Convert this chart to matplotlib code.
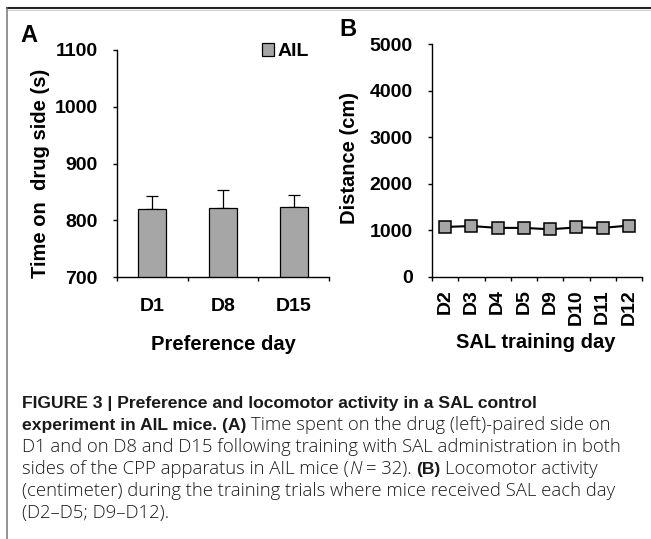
import matplotlib
matplotlib.use("Agg")
import matplotlib.pyplot as plt
from matplotlib.lines import Line2D
from matplotlib import font_manager

# ---------------- data ----------------
pref_days = ["D1", "D8", "D15"]
pref_time = [819, 821, 824]
pref_sem = [23, 32, 21]

train_days = ["D2", "D3", "D4", "D5", "D9", "D10", "D11", "D12"]
train_dist = [1070, 1090, 1050, 1050, 1020, 1060, 1050, 1100]

W, H = 651, 539
fig = plt.figure(figsize=(W / 100, H / 100), dpi=100)

names = {f.name for f in font_manager.fontManager.ttflist}
FONT = "Liberation Sans" if "Liberation Sans" in names else "DejaVu Sans"
CAPREG = "Open Sans" if "Open Sans" in names else FONT
plt.rcParams["font.family"] = [FONT, "DejaVu Sans"]

GRAY = "#a6a6a6"
TICK_FS = 14
LAB_FS = 14.5


def px_axes(l, t, r, b):
    return fig.add_axes([l / W, 1 - b / H, (r - l) / W, (b - t) / H])


def style_axes(ax):
    for s in ["top", "right"]:
        ax.spines[s].set_visible(False)
    for s in ["left", "bottom"]:
        ax.spines[s].set_linewidth(1.0)
        ax.spines[s].set_color("black")
    ax.tick_params(axis="y", which="major", direction="out", length=3, width=1.0,
                   pad=11, labelsize=TICK_FS)
    for lab in ax.get_yticklabels():
        lab.set_fontweight("bold")


# ---------------- panel A ----------------
axA = px_axes(117, 50, 329, 277)
xa = list(range(len(pref_days)))
bars = axA.bar(xa, pref_time, width=0.4, color=GRAY, edgecolor="black",
               linewidth=0.9, zorder=2, label="AIL")
axA.errorbar(xa, pref_time, yerr=[[0] * len(pref_sem), pref_sem], fmt="none",
             ecolor="black", elinewidth=0.9, capsize=4.3, capthick=0.9, zorder=1)
axA.set_ylim(700, 1100)
axA.set_xlim(-0.5, len(pref_days) - 0.5)
axA.set_yticks([700, 800, 900, 1000, 1100])
axA.set_xticks(xa)
axA.set_xticklabels(pref_days, fontsize=TICK_FS, fontweight="bold")
axA.set_xticks([i - 0.5 for i in range(len(pref_days) + 1)], minor=True)
axA.tick_params(axis="x", which="major", length=0, pad=15)
axA.tick_params(axis="x", which="minor", direction="out", length=3, width=1.0)
style_axes(axA)
axA.legend(handles=[bars], labels=["AIL"], loc="upper left",
           bbox_to_anchor=(0.685, 1.03), frameon=False, handlelength=0.6,
           handleheight=0.6, handletextpad=0.2, borderpad=0, borderaxespad=0,
           prop={"weight": "bold", "size": 14})

# ---------------- panel B ----------------
axB = px_axes(432, 44.3, 642, 276.7)
xb = list(range(len(train_days)))
axB.plot(xb, train_dist, color="black", linewidth=1.5, marker="s",
         markersize=8.6, markerfacecolor=GRAY, markeredgecolor="black",
         markeredgewidth=1.1, clip_on=False)
axB.set_ylim(0, 5000)
axB.set_xlim(-0.5, len(train_days) - 0.5)
axB.set_yticks([0, 1000, 2000, 3000, 4000, 5000])
axB.set_xticks(xb)
axB.set_xticklabels(train_days, fontsize=TICK_FS, fontweight="bold", rotation=90)
axB.set_xticks([i - 0.5 for i in range(len(train_days) + 1)], minor=True)
axB.tick_params(axis="x", which="major", length=0, pad=9)
axB.tick_params(axis="x", which="minor", direction="out", length=3, width=1.0)
style_axes(axB)

# ---------------- axis titles & panel letters ----------------
def ftext(x, y, s, **kw):
    return fig.text(x / W, 1 - y / H, s, **kw)

ftext(41, 173, "Time on  drug side (s)", rotation=90, ha="center", va="center",
      fontsize=LAB_FS, fontweight="bold")
ftext(223, 344, "Preference day", ha="center", va="center",
      fontsize=LAB_FS, fontweight="bold")
ftext(349.5, 158, "Distance (cm)", rotation=90, ha="center", va="center",
      fontsize=LAB_FS, fontweight="bold")
ftext(536, 343, "SAL training day", ha="center", va="center",
      fontsize=LAB_FS, fontweight="bold")
ftext(29, 35, "A", ha="center", va="center", fontsize=17, fontweight="bold")
ftext(348, 30, "B", ha="center", va="center", fontsize=17, fontweight="bold")

# ---------------- frame lines ----------------
fig.add_artist(Line2D([7 / W, 1], [1 - 8.3 / H, 1 - 8.3 / H], color="#222222",
                      linewidth=1.5, transform=fig.transFigure))
fig.add_artist(Line2D([7 / W, 1], [1 - 10.2 / H, 1 - 10.2 / H], color="#c8c8c8",
                      linewidth=0.6, transform=fig.transFigure))
fig.add_artist(Line2D([7 / W, 7 / W], [0, 1 - 8.3 / H], color="#777777",
                      linewidth=1.1, transform=fig.transFigure))

# ---------------- caption ----------------
renderer = fig.canvas.get_renderer()
STY = {
    "b": dict(family=[FONT, "DejaVu Sans"], fontweight="bold"),
    "r": dict(family=[CAPREG, FONT, "DejaVu Sans"], fontweight="light"),
    "i": dict(family=[CAPREG, FONT, "DejaVu Sans"], fontweight="light",
              fontstyle="italic"),
}
SIZE = {"b": 11.5, "r": 11.5, "i": 11.5}


def width_of(s, sty, size=None):
    t = fig.text(0, 0, s, fontsize=size or SIZE[sty], **STY[sty])
    w = t.get_window_extent(renderer).width
    t.remove()
    return w


caption = [
    [("FIGURE 3 | Preference and locomotor activity in a SAL control", "b")],
    [("experiment in AIL mice. (A)", "b"), (" Time spent on the drug (left)-paired side on", "r")],
    [("D1 and on D8 and D15 following training with SAL administration in both", "r")],
    [("sides of the CPP apparatus in AIL mice (", "r"), ("N", "i"), (" = 32). ", "r"),
     ("(B)", "b"), (" Locomotor activity", "r")],
    [("(centimeter) during the training trials where mice received SAL each day", "r")],
    [("(D2\u2013D5; D9\u2013D12).", "r")],
]

# fit caption sizes to the reference line lengths (px)
SIZE["b"] = 11.5 * 518 / width_of(caption[0][0][0], "b", 11.5)
SIZE["r"] = 11.5 * 598 / width_of(caption[2][0][0], "r", 11.5)
SIZE["i"] = SIZE["r"]

space_w = {k: width_of("a a", k) - width_of("aa", k) for k in STY}


def draw_line(y_px, segs, x_px=22):
    x = x_px
    for s, sty in segs:
        lead = len(s) - len(s.lstrip(" "))
        trail = len(s) - len(s.rstrip(" "))
        core = s.strip(" ")
        x += lead * space_w[sty]
        if core:
            t = ftext(x, y_px, core, fontsize=SIZE[sty], ha="left", va="baseline",
                      color="#1a1a1a", **STY[sty])
            x += t.get_window_extent(renderer).width
        x += trail * space_w[sty]


y0 = 408
for k, segs in enumerate(caption):
    draw_line(y0 + 22 * k, segs)

fig.savefig("out.png", dpi=100)
